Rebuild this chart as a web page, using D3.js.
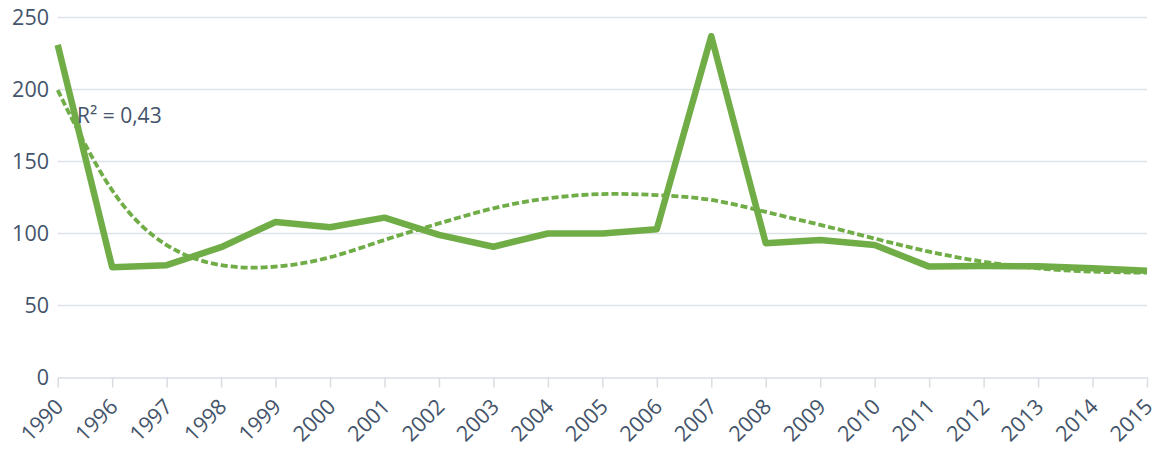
<!doctype html>
<html>

<head>
	<meta charset="utf-8">
	<style>
		body { margin: 0; background: #fff; }
		text { font-family: "Open Sans", sans-serif; fill: #44546a; }
	</style>
</head>

<body>
	<div class="figure"></div>

	<script src="https://d3js.org/d3.v7.min.js"></script>
	<script>
		// данные
		let years = ["1990", "1996", "1997", "1998", "1999", "2000", "2001", "2002", "2003", "2004", "2005",
			"2006", "2007", "2008", "2009", "2010", "2011", "2012", "2013", "2014", "2015"];
		let values = [231, 76.5, 78, 90.5, 108, 104.3, 111, 99, 90.8, 100, 100,
			103, 237, 93.2, 95.5, 92, 77, 77.4, 77.2, 75.8, 74.2];
		// полиномиальная линия тренда
		let trend = [199.6, 130, 92, 78, 77, 83.5, 95.5, 107, 117.5, 124.4, 127.4,
			126.7, 123.3, 115, 106, 96.5, 87.4, 80.4, 75.8, 73.5, 72.8];
		let yTicks = [0, 50, 100, 150, 200, 250];
		let r2Label = "R² = 0,43";

		let W = 1152, H = 453;
		let svg = d3.select(".figure")
			.append("svg")
			.attr("width", W)
			.attr("height", H);

		let x = d3.scalePoint().domain(years).range([57.7, 1147]);
		let y = d3.scaleLinear().domain([0, 250]).range([377.5, 17.5]);

		// сетка
		svg.append("g").selectAll("line")
			.data(yTicks.filter(d => d > 0))
			.join("line")
			.attr("x1", 57.7).attr("x2", 1147)
			.attr("y1", d => y(d)).attr("y2", d => y(d))
			.attr("stroke", "#dde1e8").attr("stroke-width", 1.5);

		// ось Y (только подписи)
		svg.append("g").selectAll("text")
			.data(yTicks)
			.join("text")
			.attr("x", 49)
			.attr("y", d => y(d))
			.attr("dy", "0.36em")
			.attr("text-anchor", "end")
			.style("font-size", "21.5px")
			.text(d => d);

		// ось X
		let xAxis = svg.append("g")
			.attr("transform", "translate(0," + y(0) + ")")
			.call(d3.axisBottom(x).tickSize(10).tickSizeOuter(0));
		xAxis.select(".domain").attr("stroke", "#d9dde4").attr("stroke-width", 1.5);
		xAxis.selectAll(".tick line").attr("stroke", "#d9dde4").attr("stroke-width", 1.5);
		xAxis.selectAll(".tick text")
			.attr("fill", null)
			.style("font-size", "21.5px")
			.style("font-family", null)
			.attr("text-anchor", "end")
			.attr("dy", "0.36em")
			.attr("transform", "translate(1,25) rotate(-45)")
			.attr("y", 0).attr("x", 0);

		let line = d3.line()
			.x((d, i) => x(years[i]))
			.y(d => y(d));

		svg.append("path")
			.datum(values)
			.attr("d", line)
			.attr("fill", "none")
			.attr("stroke", "#70ad47")
			.attr("stroke-width", 6.5)
			.attr("stroke-linejoin", "round");

		svg.append("path")
			.datum(trend)
			.attr("d", line.curve(d3.curveNatural))
			.attr("fill", "none")
			.attr("stroke", "#70ad47")
			.attr("stroke-width", 3.8)
			.attr("stroke-dasharray", "7,3");

		svg.append("text")
			.attr("x", 77)
			.attr("y", 123)
			.style("font-size", "21px")
			.text(r2Label);
	</script>

</body>

</html>
